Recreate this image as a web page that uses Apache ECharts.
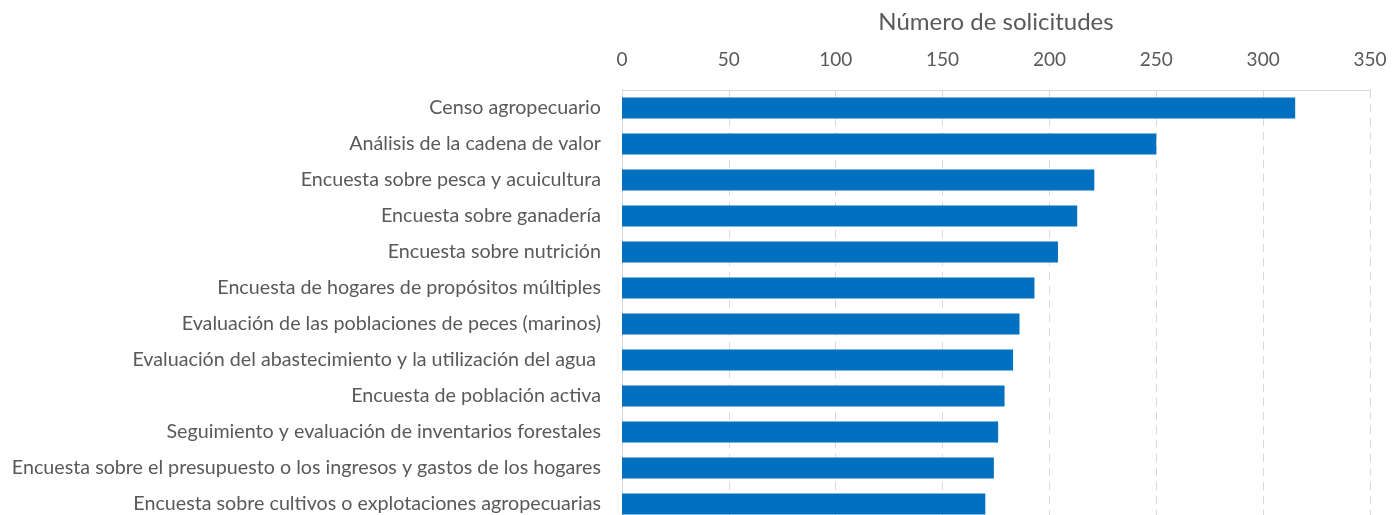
<!DOCTYPE html>
<html lang="es">
<head>
  <meta charset="UTF-8">
  <title>Número de solicitudes</title>
  <script src="https://cdn.jsdelivr.net/npm/echarts@6/dist/echarts.min.js"></script>
  <style>
    body { margin: 0; overflow: hidden; background: #fff; }
    #chart { width: 1392px; height: 540px; }
  </style>
</head>
<body>
  <div id="chart"></div>
<script>
  // datos
  const categories = [
    'Censo agropecuario',
    'Análisis de la cadena de valor',
    'Encuesta sobre pesca y acuicultura',
    'Encuesta sobre ganadería',
    'Encuesta sobre nutrición',
    'Encuesta de hogares de propósitos múltiples',
    'Evaluación de las poblaciones de peces (marinos)',
    'Evaluación del abastecimiento y la utilización del agua ',
    'Encuesta de población activa',
    'Seguimiento y evaluación de inventarios forestales',
    'Encuesta sobre el presupuesto o los ingresos y gastos de los hogares',
    'Encuesta sobre cultivos o explotaciones agropecuarias'
  ];
  const solicitudes = [315, 250, 221, 213, 204, 193, 186, 183, 179, 176, 174, 170];
  const axisTitle = 'Número de solicitudes';

  const font = 'Lato';
  const myChart = echarts.init(document.getElementById('chart'));
  const option = {
    animation: false,
    grid: { left: 622, right: 22, top: 90, height: 432 },
    xAxis: {
      type: 'value',
      position: 'top',
      min: 0,
      max: 350,
      interval: 50,
      name: axisTitle,
      nameLocation: 'middle',
      nameGap: 56,
      nameTextStyle: { fontFamily: font, fontSize: 24, color: '#595959' },
      axisLine: { show: true, lineStyle: { color: '#d9d9d9' } },
      axisTick: { show: false },
      axisLabel: { fontFamily: font, fontSize: 19, color: '#595959', margin: 21 },
      splitLine: { show: true, lineStyle: { color: '#d9d9d9', type: [8, 6], width: 1 } }
    },
    yAxis: {
      type: 'category',
      inverse: true,
      data: categories,
      axisLine: { show: true, lineStyle: { color: '#d9d9d9' } },
      axisTick: { show: false },
      axisLabel: { fontFamily: font, fontSize: 19.7, color: '#595959', margin: 21 }
    },
    series: [{
      type: 'bar',
      data: solicitudes,
      barWidth: 21,
      itemStyle: { color: '#0070c0' }
    }]
  };
  myChart.setOption(option);
</script>
</body>
</html>
